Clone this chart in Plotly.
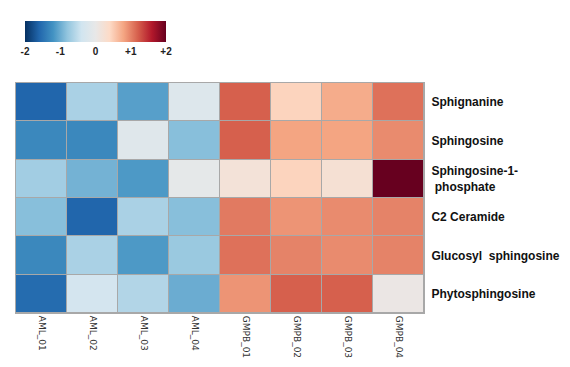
import plotly.graph_objects as go

samples = ["AML_01", "AML_02", "AML_03", "AML_04", "GMPB_01", "GMPB_02", "GMPB_03", "GMPB_04"]
metabolites = ["Sphignanine", "Sphingosine", "Sphingosine-1-<br> phosphate",
               "C2 Ceramide", "Glucosyl  sphingosine", "Phytosphingosine"]

sphignanine = [-1.6, -0.65, -1.1, -0.2, 1.2, 0.45, 0.75, 1.1]
sphingosine = [-1.3, -1.3, -0.15, -0.85, 1.2, 0.8, 0.8, 0.95]
s1p = [-0.7, -0.95, -1.15, -0.05, 0.2, 0.45, 0.25, 2.0]
c2_ceramide = [-0.85, -1.6, -0.65, -0.85, 1.05, 0.9, 0.95, 1.0]
glucosyl = [-1.3, -0.65, -1.15, -0.75, 1.1, 1.0, 0.95, 1.0]
phyto = [-1.55, -0.35, -0.6, -1.0, 0.9, 1.2, 1.2, 0.05]

z = [sphignanine, sphingosine, s1p, c2_ceramide, glucosyl, phyto]

cb_tickvals = [-2, -1, 0, 1, 2]
cb_ticktext = ["-2", "-1", "0", "+1", "+2"]

rdbu_r = [
    [0.0, "rgb(5,48,97)"], [0.1, "rgb(33,102,172)"], [0.2, "rgb(67,147,195)"],
    [0.3, "rgb(146,197,222)"], [0.4, "rgb(209,229,240)"], [0.5, "rgb(232,232,232)"],
    [0.6, "rgb(253,219,199)"], [0.7, "rgb(244,165,130)"], [0.8, "rgb(214,96,77)"],
    [0.9, "rgb(178,24,43)"], [1.0, "rgb(103,0,31)"],
]

# page body has an 8px margin, so the figure is sized to fit inside it
W, H = 554, 351
L, T = 8, 75
pw, ph = 408, 230
R, B = W - L - pw, H - T - ph

fig = go.Figure(go.Heatmap(
    z=z, x=samples, y=metabolites,
    colorscale=rdbu_r, zmin=-2, zmax=2,
    xgap=1, ygap=1,
    colorbar=dict(
        orientation="h",
        x=(17 - L) / pw, xanchor="left",
        y=(T + ph - 13) / ph, yanchor="top",
        lenmode="pixels", len=141,
        thickness=21, thicknessmode="pixels",
        outlinewidth=0,
        tickvals=cb_tickvals, ticktext=cb_ticktext,
        ticks="",
        tickfont=dict(family="Liberation Sans", size=10, color="#222", weight="bold"),
        xpad=0, ypad=0,
    ),
))

fig.update_layout(
    width=W, height=H,
    margin=dict(l=L, r=R, t=T, b=B, autoexpand=False),
    paper_bgcolor="white",
    plot_bgcolor="#a8a8a8",
    font=dict(family="DejaVu Sans"),
)
fig.update_xaxes(
    tickangle=90, ticks="", showgrid=False, zeroline=False, automargin=False,
    tickfont=dict(family="DejaVu Sans", size=9, color="#333"),
    showline=True, linecolor="#a8a8a8", linewidth=1, mirror=True,
    ticklabelstandoff=0,
)
fig.update_yaxes(
    side="right", autorange="reversed", ticks="", showgrid=False, zeroline=False, automargin=False,
    tickfont=dict(family="Liberation Sans", size=12, color="#111", weight="bold"),
    showline=True, linecolor="#a8a8a8", linewidth=1, mirror=True,
    ticklabelstandoff=4,
)

fig.write_html("out.html")
